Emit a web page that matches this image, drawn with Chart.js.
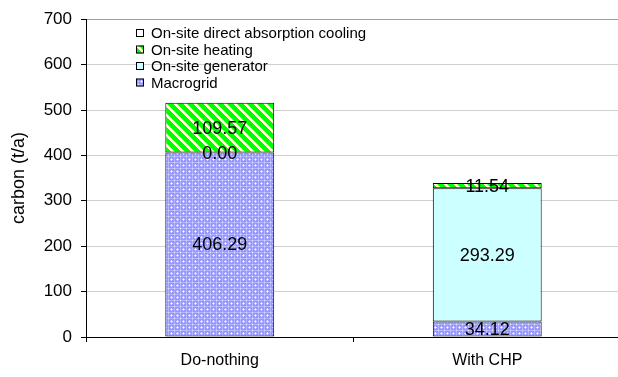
<!DOCTYPE html>
<html>
<head>
<meta charset="utf-8">
<script src="https://cdn.jsdelivr.net/npm/chart.js@4.4.0/dist/chart.umd.min.js"></script>
<style>
  html, body { margin: 0; padding: 0; background: #fff; overflow: hidden; }
  #wrap { width: 618px; height: 377px; overflow: hidden; }
</style>
</head>
<body>
<div id="wrap"><canvas id="carbonChart" width="624" height="377"></canvas></div>
<script>
// values (t/a)
const categories = ['Do-nothing', 'With CHP'];
const macrogrid = [406.29, 34.12];
const generator = [0.00, 293.29];
const heating = [109.57, 11.54];
const cooling = [0, 0];
const seriesNames = ['Macrogrid', 'On-site generator', 'On-site heating', 'On-site direct absorption cooling'];
const yMax = 700;
const yStep = 100;

const FONT = 'Liberation Sans, Arial, sans-serif';

function makePattern(size, pick) {
    const c = document.createElement('canvas');
    c.width = size; c.height = size;
    const g = c.getContext('2d');
    const img = g.createImageData(size, size);
    for (let y = 0; y < size; y++) {
        for (let x = 0; x < size; x++) {
            const col = pick(x, y);
            const i = (y * size + x) * 4;
            img.data[i] = col[0]; img.data[i + 1] = col[1]; img.data[i + 2] = col[2]; img.data[i + 3] = 255;
        }
    }
    g.putImageData(img, 0, 0);
    return g.createPattern(c, 'repeat');
}

const ctx0 = document.getElementById('carbonChart').getContext('2d');

// blue lattice with light crosses for the grid
const gridFill = makePattern(6, (x, y) => {
    if (x === 3 && y === 3) return [255, 255, 255];
    if ((x === 3 && (y === 2 || y === 4)) || (y === 3 && (x === 2 || x === 4))) return [215, 215, 255];
    if (x === 0 && y === 0) return [225, 225, 255];
    if (x === 0 || y === 0) return [180, 180, 255];
    return [150, 150, 255];
});
// green with light yellow diagonal stripes
const heatFill = makePattern(10, (x, y) => {
    const k = (x - y + 10) % 10;
    if (k < 3) return [255, 255, 210];
    if (k === 3) return [150, 255, 100];
    return [0, 255, 0];
});
const genFill = '#ccffff';
const coolFill = '#ffffff';

const fills = [gridFill, genFill, heatFill, coolFill];
const values = [macrogrid, generator, heating, cooling];

const valueLabels = {
    id: 'valueLabels',
    afterDatasetsDraw(chart) {
        const ctx = chart.ctx;
        ctx.save();
        ctx.font = '18px ' + FONT;
        ctx.fillStyle = '#000';
        ctx.textAlign = 'center';
        ctx.textBaseline = 'middle';
        for (let d = 0; d < 3; d++) {
            const meta = chart.getDatasetMeta(d);
            meta.data.forEach((bar, i) => {
                const v = chart.data.datasets[d].data[i];
                ctx.fillText(v.toFixed(2), bar.x, (bar.y + bar.base) / 2 + 1);
            });
        }
        ctx.restore();
    }
};

const boxLegend = {
    id: 'boxLegend',
    afterDraw(chart) {
        const ctx = chart.ctx;
        ctx.save();
        ctx.font = '15px ' + FONT;
        ctx.textBaseline = 'middle';
        ctx.textAlign = 'left';
        const x0 = 136, y0 = 33, step = 16.5;
        for (let k = 0; k < 4; k++) {
            const d = 3 - k;
            const y = y0 + k * step;
            ctx.fillStyle = fills[d];
            ctx.fillRect(x0, y - 4, 8, 8);
            ctx.strokeStyle = '#000';
            ctx.lineWidth = 1;
            ctx.strokeRect(x0 + 0.5, y - 3.5, 7, 7);
            ctx.fillStyle = '#000';
            ctx.fillText(seriesNames[d], x0 + 15, y + 1);
        }
        ctx.restore();
    }
};

new Chart(ctx0, {
    type: 'bar',
    data: {
        labels: categories,
        datasets: values.map((arr, d) => ({
            label: seriesNames[d],
            data: arr,
            backgroundColor: fills[d],
            borderColor: '#000',
            borderWidth: 1,
            borderSkipped: false,
            barPercentage: 0.407,
            categoryPercentage: 1
        }))
    },
    options: {
        responsive: false,
        animation: false,
        layout: { padding: { top: 12, right: 3, bottom: 0, left: 0 } },
        plugins: { legend: { display: false }, tooltip: { enabled: false } },
        scales: {
            x: {
                stacked: true,
                offset: true,
                grid: { offset: true, drawOnChartArea: false, tickLength: 5, color: '#000' },
                border: { color: '#000', width: 1 },
                ticks: { color: '#000', font: { family: FONT, size: 16 }, padding: 9, maxRotation: 0 },
                afterFit(s) { s.height = 40; }
            },
            y: {
                stacked: true,
                min: 0,
                max: yMax,
                grid: {
                    color: c => c.tick && c.tick.value === yMax ? '#a0a0a0' : '#d0d0d0',
                    tickColor: '#000',
                    tickLength: 5
                },
                border: { color: '#000', width: 1 },
                ticks: { stepSize: yStep, color: '#000', font: { family: FONT, size: 17 }, padding: 9 },
                title: {
                    display: true,
                    text: 'carbon (t/a)',
                    color: '#000',
                    font: { family: FONT, size: 18 },
                    padding: { top: 8, bottom: 0 }
                },
                afterFit(s) { s.width = 86; }
            }
        }
    },
    plugins: [valueLabels, boxLegend]
});
</script>
</body>
</html>
